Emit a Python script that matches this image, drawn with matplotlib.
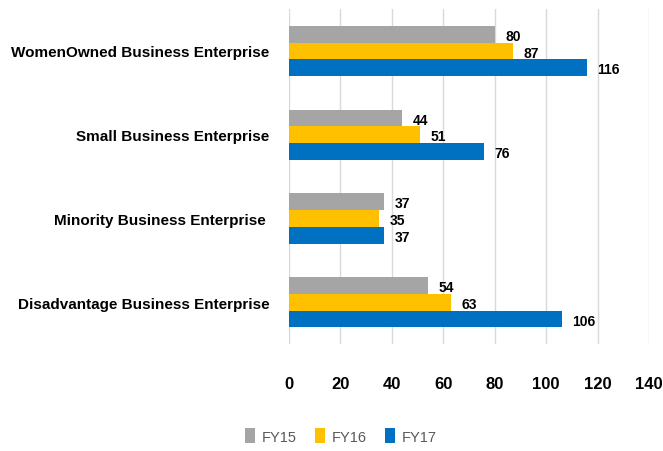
import matplotlib
matplotlib.use("Agg")
import matplotlib.pyplot as plt
import numpy as np
from matplotlib import font_manager

categories = ["WomenOwned Business Enterprise", "Small Business Enterprise",
              "Minority Business Enterprise ", "Disadvantage Business Enterprise"]
series_names = ["FY15", "FY16", "FY17"]
fy15 = [80, 44, 37, 54]
fy16 = [87, 51, 35, 63]
fy17 = [116, 76, 37, 106]
colors = ["#A5A5A5", "#FFC000", "#0070C0"]
xticks = [0, 20, 40, 60, 80, 100, 120, 140]

plt.rcParams['font.family'] = ['Liberation Sans', 'DejaVu Sans']

fig = plt.figure(figsize=(6.63, 4.52), dpi=100)
ax = fig.add_axes([289/663, 1-345/452, (649-289)/663, (345-10)/452])

y = np.arange(len(categories))
bh = 0.2
for i, (vals, c, name) in enumerate(zip([fy15, fy16, fy17], colors, series_names)):
    pos = y + (i - 1) * bh
    ax.barh(pos, vals, height=bh, color=c, label=name, zorder=3)
    for p, v in zip(pos, vals):
        ax.text(v + 4, p + 0.02, str(v), va='center', ha='left', fontsize=10,
                fontweight='bold', color='#000000')

ax.set_ylim(len(categories) - 0.5, -0.5)
ax.set_xlim(0, 140)
ax.set_xticks(xticks)
ax.set_xticklabels([str(t) for t in xticks], fontsize=12, fontweight='bold')
ax.set_yticks(y)
ax.set_yticklabels(categories, fontsize=11, fontweight='bold')
ax.tick_params(axis='x', length=0, pad=23)
ax.tick_params(axis='y', length=0, pad=14)
ax.grid(axis='x', color='#D9D9D9', linewidth=1, zorder=0)
for s in ax.spines.values():
    s.set_visible(False)

leg = fig.legend(loc='center', bbox_to_anchor=(341/663, 1-437/452), ncol=3,
                 frameon=False, fontsize=10.5, handlelength=0.65, handleheight=1.2,
                 handletextpad=0.45, columnspacing=1.3, labelcolor='#595959')

fig.savefig("out.png", dpi=100)
